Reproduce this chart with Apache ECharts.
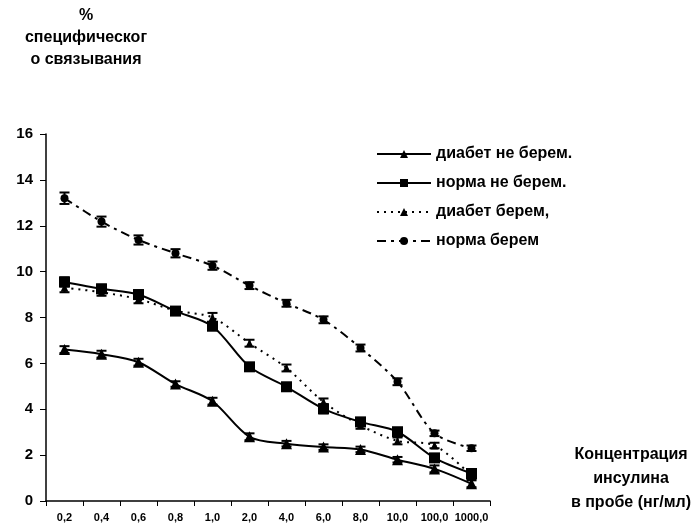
<!DOCTYPE html>
<html><head><meta charset="utf-8">
<script src="https://cdn.jsdelivr.net/npm/echarts@6/dist/echarts.min.js"></script>
<style>html,body{margin:0;padding:0;background:#fff}#c{width:700px;height:530px}</style>
</head><body><div id="c"></div>
<script>
var categories = ['0,2','0,4','0,6','0,8','1,0','2,0','4,0','6,0','8,0','10,0','100,0','1000,0'];
var yTicks = [0,2,4,6,8,10,12,14,16];
var diabetNeBerem = [6.6,6.4,6.05,5.1,4.35,2.8,2.5,2.35,2.25,1.8,1.4,0.75];
var normaNeBerem  = [9.55,9.25,9.0,8.28,7.62,5.85,4.98,4.02,3.45,3.02,1.88,1.2];
var diabetBerem   = [9.3,9.1,8.8,8.3,8.0,6.88,5.8,4.32,3.3,2.62,2.42,1.1];
var normaBerem    = [13.2,12.18,11.38,10.8,10.26,9.39,8.62,7.9,6.67,5.2,2.95,2.3];
var errDiabetNeBerem = [0.15,0.15,0.15,0.12,0.15,0.15,0.12,0.12,0.12,0.12,0.15,0.15];
var errNormaNeBerem  = [0.2,0.18,0.18,0.15,0.15,0.15,0.15,0.2,0.15,0.15,0.15,0.15];
var errDiabetBerem   = [0.2,0.15,0.18,0.15,0.2,0.15,0.15,0.15,0.15,0.15,0.12,0.15];
var errNormaBerem    = [0.25,0.22,0.2,0.18,0.18,0.15,0.15,0.15,0.15,0.15,0.12,0.12];
var names = ['диабет не берем.','норма не берем.','диабет берем,','норма берем'];

var chart = echarts.init(document.getElementById('c'));
var FONT = 'Liberation Sans, Arial, sans-serif';

function errSeries(vals, errs){
  var data = vals.map(function(v,i){return [i, v, errs[i]];});
  return {
    type:'custom', silent:true, z:3,
    renderItem:function(params, api){
      var x = api.value(0), y = api.value(1), e = api.value(2);
      var hi = api.coord([x, y+e]), lo = api.coord([x, y-e]);
      var w = 5;
      var st = {stroke:'#000', lineWidth:2};
      return {type:'group', children:[
        {type:'line', shape:{x1:hi[0],y1:hi[1],x2:lo[0],y2:lo[1]}, style:st},
        {type:'line', shape:{x1:hi[0]-w,y1:hi[1],x2:hi[0]+w,y2:hi[1]}, style:st},
        {type:'line', shape:{x1:lo[0]-w,y1:lo[1],x2:lo[0]+w,y2:lo[1]}, style:st}
      ]};
    },
    data:data
  };
}

var option = {
  animation:false,
  backgroundColor:'#fff',
  textStyle:{fontFamily:FONT, color:'#000'},
  grid:{left:46, right:210, top:134, bottom:29},
  legend:{
    orient:'vertical', left:371, top:141, itemWidth:54, itemHeight:10, itemGap:13,
    textStyle:{fontFamily:FONT, fontSize:16, color:'#000', fontWeight:'bold'},
    data:names
  },
  graphic:[
    {type:'text', style:{text:'%\nспецифическог\nо связывания', x:86, y:5, textAlign:'center', font:'bold 16px '+FONT, fill:'#000', lineHeight:22}},
    {type:'text', style:{text:'Концентрация\nинсулина\nв пробе (нг/мл)', x:631, y:443, textAlign:'center', font:'bold 16px '+FONT, fill:'#000', lineHeight:24}}
  ],
  xAxis:{
    type:'category', data:categories, boundaryGap:true,
    axisLine:{lineStyle:{color:'#000', width:1.5}},
    axisTick:{show:true, length:5, lineStyle:{color:'#000'}},
    axisLabel:{fontFamily:FONT, fontSize:11, fontWeight:'bold', color:'#000', margin:11, interval:0}
  },
  yAxis:{
    type:'value', min:0, max:16, interval:2,
    splitLine:{show:false},
    axisLine:{show:true, lineStyle:{color:'#000', width:1.5}},
    axisTick:{show:true, length:6, lineStyle:{color:'#000'}},
    axisLabel:{fontFamily:FONT, fontSize:15, fontWeight:'bold', color:'#000', margin:13,
      formatter:function(v){return yTicks.indexOf(v)>=0 ? String(v) : '';}}
  },
  series:[
    {name:names[0], type:'line', data:diabetNeBerem, smooth:0.3, symbol:'triangle', symbolSize:11,
      lineStyle:{color:'#000', width:2}, itemStyle:{color:'#000'}},
    {name:names[1], type:'line', data:normaNeBerem, smooth:0.3, symbol:'rect', symbolSize:11,
      lineStyle:{color:'#000', width:2}, itemStyle:{color:'#000'}},
    {name:names[2], type:'line', data:diabetBerem, smooth:0.3, symbol:'triangle', symbolSize:8,
      lineStyle:{color:'#000', width:2, type:[2,5]}, itemStyle:{color:'#000'}},
    {name:names[3], type:'line', data:normaBerem, smooth:0.3, symbol:'circle', symbolSize:8,
      lineStyle:{color:'#000', width:2, type:[9,5,3,5]}, itemStyle:{color:'#000'}},
    errSeries(diabetNeBerem, errDiabetNeBerem),
    errSeries(normaNeBerem, errNormaNeBerem),
    errSeries(diabetBerem, errDiabetBerem),
    errSeries(normaBerem, errNormaBerem)
  ]
};
chart.setOption(option);
</script></body></html>
